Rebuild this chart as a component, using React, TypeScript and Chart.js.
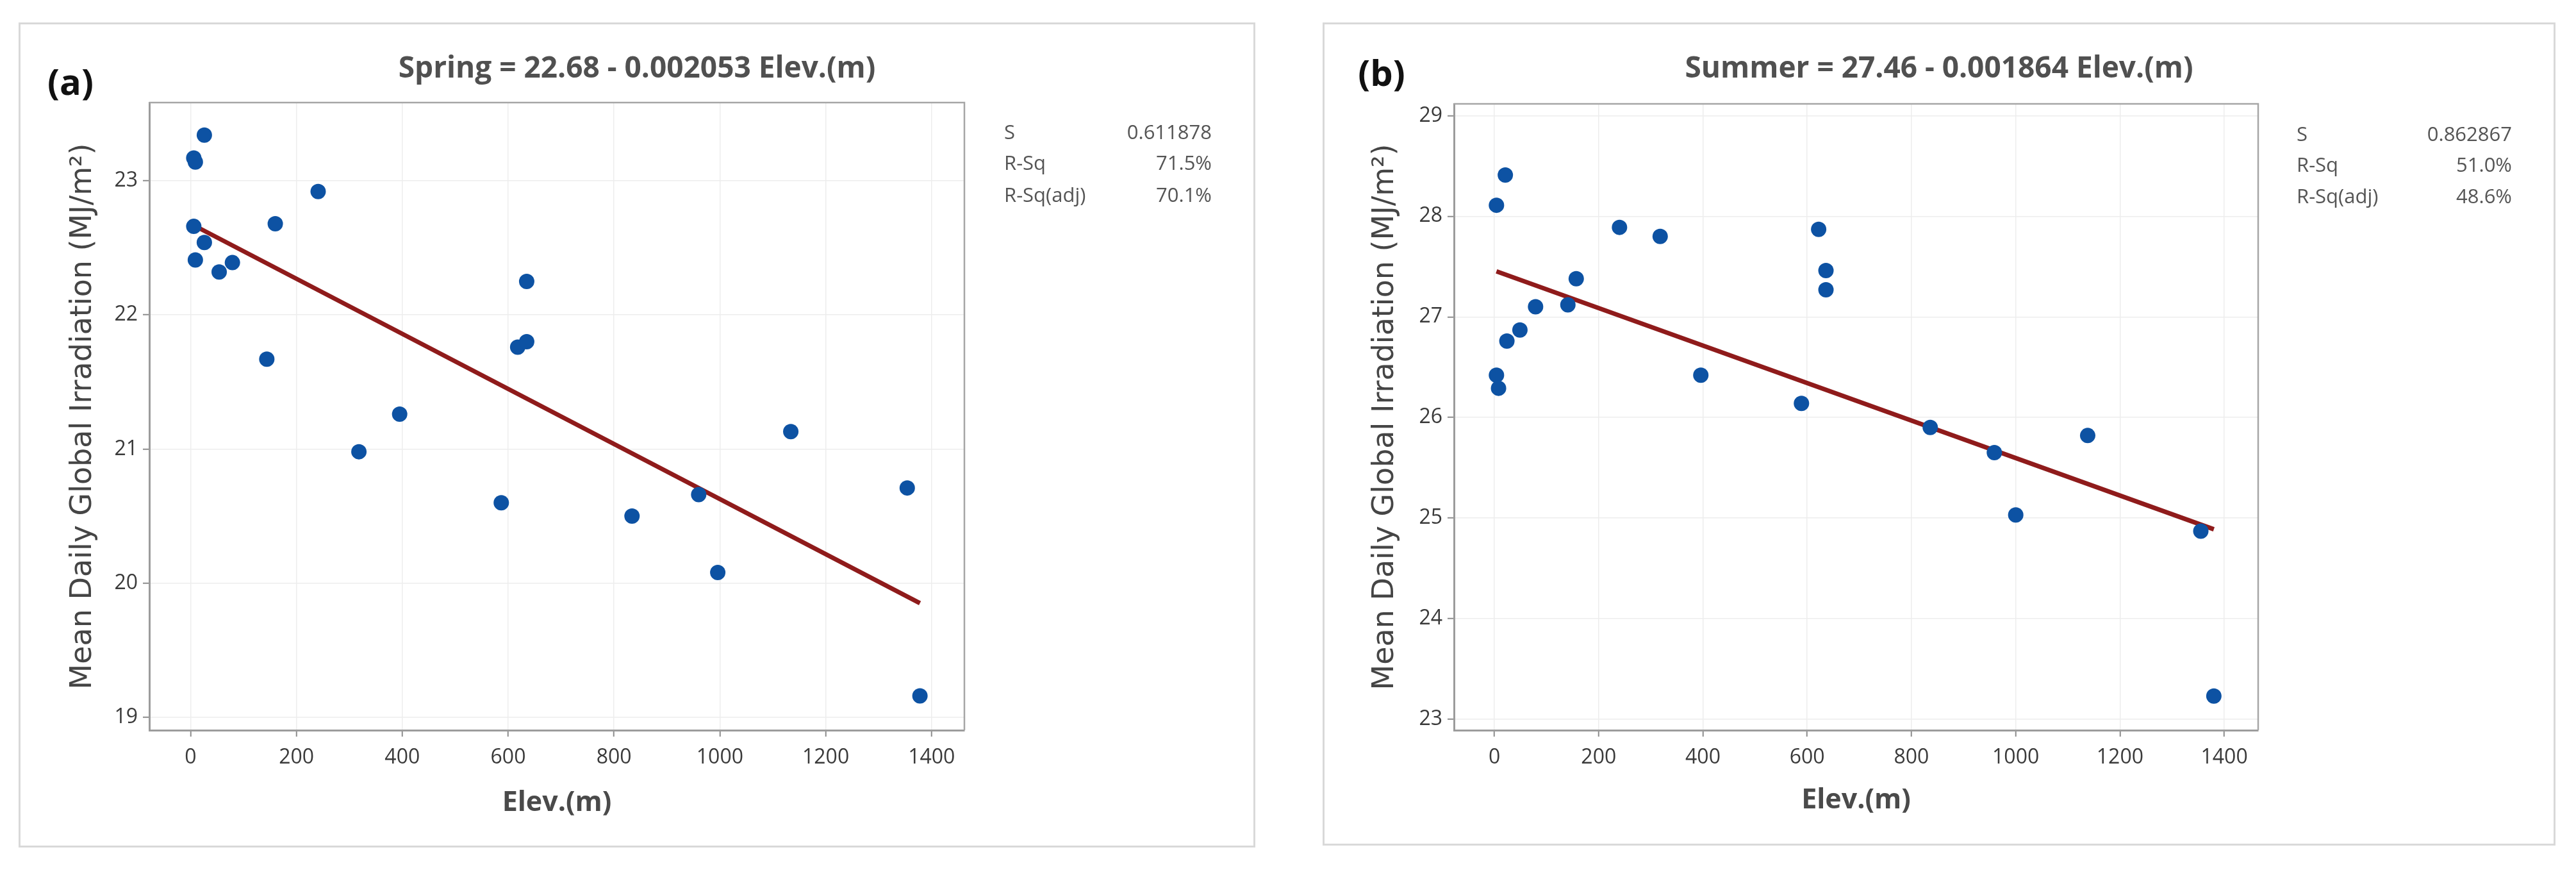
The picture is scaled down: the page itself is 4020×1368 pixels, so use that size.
import React, { useEffect, useRef } from 'react';
import { Chart, registerables } from 'chart.js';

Chart.register(...registerables);

// ---------- data ----------
const springElev = [6, 9, 26, 241, 6, 160, 26, 9, 79, 54, 635, 618, 635, 144, 395, 318, 587, 834, 960, 996, 1134, 1354, 1378];
const springIrr = [23.17, 23.14, 23.34, 22.92, 22.66, 22.68, 22.54, 22.41, 22.39, 22.32, 22.25, 21.76, 21.8, 21.67, 21.26, 20.98, 20.6, 20.5, 20.66, 20.08, 21.13, 20.71, 19.16];

const summerElev = [4, 21, 240, 318, 622, 636, 636, 157, 141, 79, 49, 24, 4, 8, 396, 589, 836, 959, 1000, 1138, 1355, 1380];
const summerIrr = [28.11, 28.41, 27.89, 27.8, 27.87, 27.46, 27.27, 27.38, 27.12, 27.1, 26.87, 26.76, 26.42, 26.29, 26.42, 26.14, 25.9, 25.65, 25.03, 25.82, 24.87, 23.23];

// regression: [intercept, slope]
const springFit = [22.68, -0.002053];
const summerFit = [27.46, -0.001864];

const springTitle = 'Spring = 22.68 - 0.002053 Elev.(m)';
const summerTitle = 'Summer = 27.46 - 0.001864 Elev.(m)';

const statLabels = ['S', 'R-Sq', 'R-Sq(adj)'];
const springStats = ['0.611878', '71.5%', '70.1%'];
const summerStats = ['0.862867', '51.0%', '48.6%'];

const xAxisTitle = 'Elev.(m)';
const yAxisTitle = 'Mean Daily Global Irradiation (MJ/m²)';

// ---------- layout ----------
type PanelCfg = {
  left: number; top: number; width: number; height: number;
  letter: string; letterX: number; letterY: number;
  title: string; titleY: number;
  xs: number[]; ys: number[]; fit: number[];
  xMin: number; xMax: number; yMin: number; yMax: number;
  pad: { left: number; top: number; right: number; bottom: number };
  yAxisWidth: number; xAxisHeight: number;
  statsLeft: number; statsRight: number; statsY: number[]; stats: string[];
};

const panels: PanelCfg[] = [
  {
    left: 29, top: 35, width: 1930, height: 1287,
    letter: '(a)', letterX: 81, letterY: 91,
    title: springTitle, titleY: 68,
    xs: springElev, ys: springIrr, fit: springFit,
    xMin: -78, xMax: 1462, yMin: 18.904, yMax: 23.583,
    pad: { left: 73, top: 125, right: 454, bottom: 43.6 },
    yAxisWidth: 131, xAxisHeight: 139.4,
    statsLeft: 1538, statsRight: 1862, statsY: [170, 218, 268], stats: springStats,
  },
  {
    left: 2064, top: 35, width: 1924, height: 1284,
    letter: '(b)', letterX: 92, letterY: 77,
    title: summerTitle, titleY: 68,
    xs: summerElev, ys: summerIrr, fit: summerFit,
    xMin: -77.5, xMax: 1465, yMin: 22.89, yMax: 29.118,
    pad: { left: 70, top: 127, right: 464, bottom: 44.6 },
    yAxisWidth: 135, xAxisHeight: 135.4,
    statsLeft: 1520, statsRight: 1856, statsY: [173, 221, 270], stats: summerStats,
  },
];

const framePlugin = {
  id: 'frameDeco',
  beforeDraw(chart: any) {
    const { ctx, width, height } = chart;
    ctx.save();
    ctx.fillStyle = '#ffffff';
    ctx.fillRect(0, 0, width, height);
    ctx.restore();
  },
  beforeDatasetsDraw(chart: any) {
    const { ctx, chartArea } = chart;
    ctx.save();
    ctx.strokeStyle = '#a6a6a6';
    ctx.lineWidth = 2.5;
    ctx.beginPath();
    ctx.moveTo(chartArea.left, chartArea.top);
    ctx.lineTo(chartArea.right, chartArea.top);
    ctx.lineTo(chartArea.right, chartArea.bottom);
    ctx.stroke();
    ctx.restore();
  },
  afterDraw(chart: any) {
    const { ctx, width, height } = chart;
    ctx.save();
    ctx.strokeStyle = '#d9d9d9';
    ctx.lineWidth = 3;
    ctx.strokeRect(1.5, 1.5, width - 3, height - 3);
    ctx.restore();
  },
};

function Panel({ cfg }: { cfg: PanelCfg }) {
  const ref = useRef<HTMLCanvasElement | null>(null);

  useEffect(() => {
    if (!ref.current) return;
    const pts = cfg.xs.map((x, i) => ({ x, y: cfg.ys[i] }));
    const x0 = Math.min(...cfg.xs);
    const x1 = Math.max(...cfg.xs);
    const fitPts = [
      { x: x0, y: cfg.fit[0] + cfg.fit[1] * x0 },
      { x: x1, y: cfg.fit[0] + cfg.fit[1] * x1 },
    ];
    const tickFont = { family: '"Open Sans", sans-serif', size: 32 };
    const plain = (v: any) => String(Math.round(Number(v) * 1000) / 1000);
    const chart = new Chart(ref.current, {
      type: 'scatter',
      data: {
        datasets: [
          {
            type: 'scatter',
            data: pts,
            backgroundColor: '#0d52a3',
            borderColor: '#0d52a3',
            borderWidth: 0,
            pointRadius: 12,
            pointHoverRadius: 12,
            order: 0,
          } as any,
          {
            type: 'line',
            data: fitPts,
            borderColor: '#8f1b1b',
            borderWidth: 7,
            pointRadius: 0,
            showLine: true,
            fill: false,
            order: 1,
          } as any,
        ],
      },
      options: {
        animation: false,
        responsive: false,
        devicePixelRatio: 1,
        layout: { padding: cfg.pad },
        plugins: {
          legend: { display: false },
          tooltip: { enabled: false },
          title: { display: false },
        },
        scales: {
          x: {
            type: 'linear',
            min: cfg.xMin,
            max: cfg.xMax,
            afterFit: (s: any) => { s.height = cfg.xAxisHeight; },
            ticks: {
              stepSize: 200,
              includeBounds: false,
              font: tickFont,
              color: '#3a3a3a',
              padding: 14,
              maxRotation: 0,
              autoSkip: false,
              callback: plain,
            },
            grid: { color: '#ededed', lineWidth: 1.5, tickColor: '#8c8c8c', tickLength: 10, tickWidth: 2 },
            border: { color: '#9c9c9c', width: 3 },
            title: {
              display: true,
              text: xAxisTitle,
              font: { family: '"Open Sans", sans-serif', size: 43, weight: 'bold' },
              color: '#4a4a4a',
              padding: 0,
            },
          },
          y: {
            type: 'linear',
            min: cfg.yMin,
            max: cfg.yMax,
            afterFit: (s: any) => { s.width = cfg.yAxisWidth; },
            ticks: {
              stepSize: 1,
              includeBounds: false,
              font: tickFont,
              color: '#3a3a3a',
              padding: 8,
              callback: plain,
            },
            grid: { color: '#ededed', lineWidth: 1.5, tickColor: '#8c8c8c', tickLength: 10, tickWidth: 2 },
            border: { color: '#9c9c9c', width: 3 },
            title: {
              display: true,
              text: yAxisTitle,
              font: { family: '"DejaVu Sans", sans-serif', size: 46 },
              color: '#454545',
              padding: 0,
            },
          },
        },
      } as any,
      plugins: [framePlugin],
    });
    return () => chart.destroy();
  }, [cfg]);

  return (
    <div style={{ position: 'absolute', left: cfg.left, top: cfg.top, width: cfg.width, height: cfg.height }}>
      <canvas
        ref={ref}
        width={cfg.width}
        height={cfg.height}
        style={{ position: 'absolute', left: 0, top: 0, width: cfg.width, height: cfg.height }}
      />
      <div
        style={{
          position: 'absolute', left: cfg.letterX - 60, width: 120, top: cfg.letterY - 28,
          height: 56, lineHeight: '56px', fontSize: 56, fontWeight: 700, textAlign: 'center',
          fontFamily: '"Open Sans", sans-serif', color: '#111',
        }}
      >
        {cfg.letter}
      </div>
      <div
        style={{
          position: 'absolute', left: 0, width: cfg.width, top: cfg.titleY - 24, height: 48,
          lineHeight: '48px', fontSize: 46, fontWeight: 700, textAlign: 'center',
          fontFamily: '"Open Sans", sans-serif', color: '#505050', whiteSpace: 'nowrap',
        }}
      >
        {cfg.title}
      </div>
      {statLabels.map((lab, i) => (
        <div
          key={lab}
          style={{
            position: 'absolute', left: cfg.statsLeft, width: cfg.statsRight - cfg.statsLeft,
            top: cfg.statsY[i] - 16, height: 32, lineHeight: '32px', fontSize: 31,
            fontFamily: '"Open Sans", sans-serif', color: '#555', display: 'flex',
            justifyContent: 'space-between', whiteSpace: 'nowrap',
          }}
        >
          <span>{lab}</span>
          <span>{cfg.stats[i]}</span>
        </div>
      ))}
    </div>
  );
}

export default function App() {
  return (
    <div style={{ position: 'absolute', left: 0, top: 0, width: 4020, height: 1368, background: '#ffffff', overflow: 'hidden' }}>
      {panels.map((p) => (
        <Panel key={p.letter} cfg={p} />
      ))}
    </div>
  );
}
